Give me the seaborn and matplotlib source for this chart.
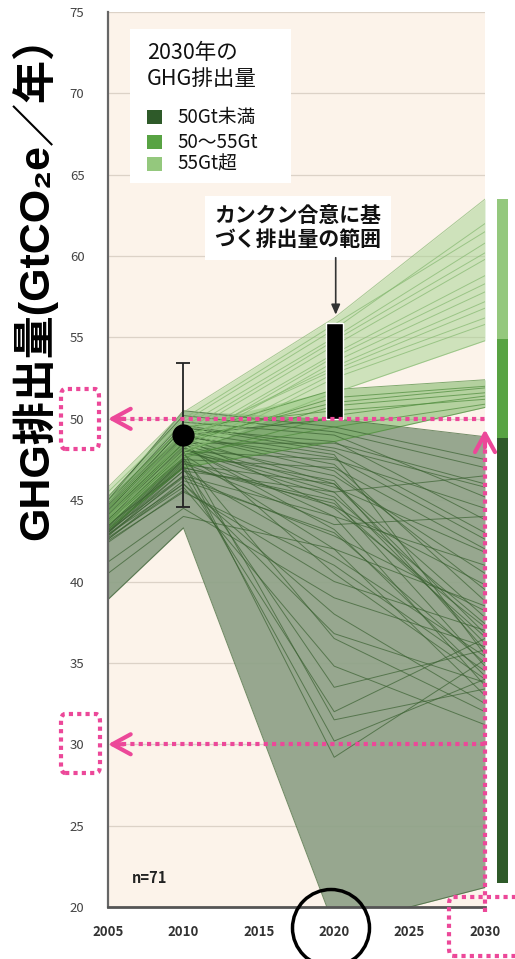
import matplotlib
matplotlib.use("Agg")
import matplotlib.pyplot as plt
from matplotlib.patches import FancyBboxPatch, Ellipse, Rectangle
import pandas as pd
import seaborn as sns

# ---- data -------------------------------------------------------------
years = [2005, 2010, 2020, 2030]

# scenario pathways (GtCO2e/yr), grouped by their 2030 emission level
paths_below_50 = [
    [38.9, 43.3, 18.8, 21.2],
    [41.2, 44.5, 39.0, 36.0],
    [42.5, 45.5, 41.0, 34.5],
    [42.8, 46.5, 32.0, 36.5],
    [43.0, 47.5, 29.2, 35.2],
    [43.5, 47.0, 30.2, 34.0],
    [44.0, 48.0, 31.5, 33.4],
    [42.6, 46.2, 43.0, 35.0],
    [42.9, 46.0, 38.0, 32.5],
    [42.7, 45.8, 34.8, 31.2],
    [43.7, 47.6, 36.5, 32.0],
    [43.4, 47.8, 42.0, 33.0],
    [44.1, 48.6, 40.5, 34.0],
    [43.6, 48.2, 44.0, 33.6],
    [44.5, 49.2, 47.8, 35.5],
    [43.0, 47.0, 45.0, 34.8],
    [42.8, 46.8, 45.5, 36.2],
    [43.2, 47.2, 46.0, 37.8],
    [43.9, 48.8, 44.5, 37.2],
    [44.0, 48.5, 46.5, 40.5],
    [44.6, 49.0, 46.8, 39.5],
    [40.5, 44.0, 42.0, 38.5],
    [43.1, 46.5, 44.0, 41.0],
    [43.5, 47.5, 47.0, 42.0],
    [44.3, 49.5, 48.0, 43.0],
    [43.3, 47.3, 43.5, 44.0],
    [43.8, 48.0, 47.5, 44.5],
    [44.8, 49.8, 49.0, 45.2],
    [44.2, 48.5, 48.5, 46.0],
    [44.0, 48.2, 45.5, 46.5],
    [45.0, 50.5, 49.5, 47.5],
    [44.5, 49.0, 50.0, 48.9],
    [42.4, 45.6, 40.0, 37.0],
    [43.2, 47.0, 44.8, 36.6],
    [43.6, 47.9, 46.2, 35.8],
    [44.0, 48.3, 43.2, 34.2],
    [43.0, 46.8, 41.5, 35.4],
    [44.4, 49.0, 47.2, 38.8],
    [42.6, 46.0, 36.8, 33.8],
    [43.8, 48.4, 45.8, 41.8],
    [44.6, 49.4, 48.6, 43.8],
    [43.4, 47.4, 44.6, 39.8],
    [44.2, 48.9, 47.6, 42.6],
    [42.9, 46.4, 42.8, 38.2],
    [44.7, 49.6, 48.2, 45.8],
    [43.1, 47.1, 33.5, 35.8],
    [44.3, 48.8, 46.0, 36.8],
    [43.7, 48.1, 45.2, 37.4],
    [45.2, 50.2, 49.2, 47.0],
]
paths_50_55 = [
    [44.5, 49.0, 51.8, 52.4],
    [44.0, 48.5, 51.3, 52.0],
    [43.6, 48.0, 50.8, 51.6],
    [45.0, 49.5, 50.5, 51.2],
    [43.8, 47.8, 49.5, 50.9],
    [43.2, 47.0, 48.6, 50.7],
    [44.2, 48.7, 51.0, 51.9],
    [43.5, 47.6, 50.2, 51.4],
]
paths_above_55 = [
    [45.8, 50.4, 56.2, 63.5],
    [45.2, 49.8, 55.5, 62.0],
    [44.8, 49.5, 55.0, 60.8],
    [44.5, 49.0, 54.5, 59.8],
    [44.0, 48.6, 54.0, 58.8],
    [43.7, 48.2, 53.5, 57.8],
    [44.3, 48.8, 53.0, 56.8],
    [43.5, 47.8, 52.5, 55.8],
    [44.0, 48.0, 51.6, 54.8],
    [45.5, 50.0, 55.8, 61.5],
    [44.6, 49.2, 54.8, 60.2],
    [43.9, 48.4, 53.8, 58.3],
    [44.2, 48.7, 53.2, 57.2],
    [43.6, 48.0, 52.8, 56.2],
]

group_names = ["50Gt未満", "50～55Gt", "55Gt超"]
group_colors = ["#2E5A29", "#58A343", "#94C87D"]
band_colors = ["#8FA288", "#6DB056", "#A9D595"]
band_alphas = [0.93, 0.5, 0.55]
line_colors = ["#3A6131", "#4C8A3A", "#84B86F"]

cancun_range = [50.0, 55.9]          # 2020 pledge range
hist_2010 = 49.0                     # 2010 estimate
hist_2010_range = [44.6, 53.4]
side_bar_edges = [21.5, 48.8, 54.9, 63.5]   # 2030 spread by group
y_ticks = [20, 25, 30, 35, 40, 45, 50, 55, 60, 65, 70, 75]
x_ticks = [2005, 2010, 2015, 2020, 2025, 2030]
n_scenarios = len(paths_below_50) + len(paths_50_55) + len(paths_above_55)

# ---- long table -------------------------------------------------------
rows = []
for name, paths in zip(group_names, [paths_below_50, paths_50_55, paths_above_55]):
    for i, p in enumerate(paths):
        for yr, v in zip(years, p):
            rows.append({"group": name, "scenario": f"{name}-{i}", "year": yr, "value": v})
df = pd.DataFrame(rows)

# ---- style ------------------------------------------------------------
sns.set_theme(style="white")
plt.rcParams["font.family"] = ["Noto Sans CJK JP", "DejaVu Sans"]

W, H = 515, 959
fig = plt.figure(figsize=(W / 100, H / 100), dpi=100)
fig.patch.set_facecolor("white")
ax = fig.add_axes([108 / W, 1 - 907 / H, (485 - 108) / W, (907 - 12) / H])
ax.set_facecolor("#FCF3EA")
ax.set_xlim(2005, 2030)
ax.set_ylim(20, 75)

for yv in y_ticks:
    ax.axhline(yv, color="#DCD2C7", lw=0.9, zorder=0)

# group envelopes
for name, col, a in zip(group_names, band_colors, band_alphas):
    env = df[df["group"] == name].groupby("year")["value"].agg(["min", "max"])
    ax.fill_between(env.index, env["min"], env["max"], color=col, alpha=a, lw=0, zorder=1)

# individual pathways
sns.lineplot(data=df, x="year", y="value", hue="group", units="scenario",
             estimator=None, palette=dict(zip(group_names, line_colors)),
             lw=0.7, alpha=0.7, legend=False, ax=ax, zorder=2)

# 2010 estimate with uncertainty
ax.errorbar([2010], [hist_2010],
            yerr=[[hist_2010 - hist_2010_range[0]], [hist_2010_range[1] - hist_2010]],
            fmt="o", ms=15, color="black", ecolor="#222222", elinewidth=1.3,
            capsize=5, capthick=1.3, zorder=6)

# Cancun pledge range in 2020
ax.bar([2020], [cancun_range[1] - cancun_range[0]], bottom=cancun_range[0],
       width=1.12, color="black", zorder=6)

# 2030 spread bar beside the plot
for lo, hi, col in zip(side_bar_edges[:-1], side_bar_edges[1:], group_colors):
    ax.bar([2031.15], [hi - lo], bottom=lo, width=0.72, color=col,
           clip_on=False, zorder=6, lw=0)

# callout
ax.text(2017.6, 61.75, "カンクン合意に基\nづく排出量の範囲", ha="center", va="center",
        fontsize=15, fontweight="bold", color="#111111", linespacing=1.2,
        bbox=dict(boxstyle="square,pad=0.45", fc="white", ec="none"), zorder=7)
ax.annotate("", xy=(2020.1, 56.4), xytext=(2020.1, 59.9),
            arrowprops=dict(arrowstyle="-|>,head_length=0.5,head_width=0.22",
                            color="#333333", lw=1.2, shrinkA=0, shrinkB=0), zorder=7)

ax.text(2006.6, 21.8, f"n={n_scenarios}", fontsize=10.5, fontweight="bold",
        color="#222222", ha="left", va="center", zorder=7)

# axes cosmetics
for s in ["top", "right"]:
    ax.spines[s].set_visible(False)
ax.spines["left"].set_color("#666666")
ax.spines["left"].set_linewidth(1.6)
ax.spines["bottom"].set_color("#555555")
ax.spines["bottom"].set_linewidth(2.0)
ax.set_xticks(x_ticks)
ax.set_yticks(y_ticks)
ax.tick_params(axis="x", direction="in", length=4, width=1.5, color="#555555",
               pad=13, labelsize=9.5, labelcolor="#333333")
ax.tick_params(axis="y", length=0, pad=17, labelsize=9.5, labelcolor="#444444")
for t in ax.get_xticklabels():
    t.set_fontweight("bold")
ax.set_xlabel("")
ax.set_ylabel("")

fig.text(34 / W, 1 - 277 / H, "GHG排出量(GtCO₂e／年）", rotation=90, ha="center",
         va="center", fontsize=31, fontweight="bold", color="black",
         family=["Liberation Sans", "Noto Sans CJK JP", "DejaVu Sans"])

# legend panel
def fx(px):
    return px / W

def fy(py):
    return 1 - py / H

fig.patches.append(Rectangle((fx(130), fy(183)), (291 - 130) / W, (183 - 29) / H,
                             transform=fig.transFigure, fc="white", ec="none", zorder=8))
fig.text(fx(147), fy(53), "2030年の", fontsize=15.5, ha="left", va="center",
         color="#111111", zorder=9)
fig.text(fx(147), fy(79), "GHG排出量", fontsize=15.5, ha="left", va="center",
         color="#111111", zorder=9)
for name, col, yc in zip(group_names, group_colors, [117, 142, 164]):
    fig.patches.append(Rectangle((fx(147), fy(yc + 7)), 15 / W, 14 / H,
                                 transform=fig.transFigure, fc=col, ec="none", zorder=9))
    fig.text(fx(177), fy(yc), name, fontsize=13.5, ha="left", va="center",
             color="#111111", zorder=9)

# highlight marks
pink = "#EC4899"
dot = (0, (1, 1))
for yv in [50, 30]:
    ax.plot([2005.95, 2030], [yv, yv], color=pink, lw=3, ls=dot, clip_on=False, zorder=9)
    ax.annotate("", xy=(2005.0, yv), xytext=(2006.05, yv),
                arrowprops=dict(arrowstyle="->,head_length=1.1,head_width=0.6",
                                color=pink, lw=3, shrinkA=0, shrinkB=0),
                annotation_clip=False, zorder=9)
ax.plot([2030, 2030], [19.7, 48.3], color=pink, lw=3, ls=dot, clip_on=False, zorder=9)
ax.annotate("", xy=(2030, 49.35), xytext=(2030, 48.25),
            arrowprops=dict(arrowstyle="->,head_length=1.1,head_width=0.6",
                            color=pink, lw=3, shrinkA=0, shrinkB=0),
            annotation_clip=False, zorder=9)

def pink_box(x0, y0, x1, y1):
    fig.patches.append(FancyBboxPatch(
        (fx(x0), fy(y1)), (x1 - x0) / W, (y1 - y0) / H,
        boxstyle="round,pad=0,rounding_size=0.008", transform=fig.transFigure,
        fill=False, ec=pink, lw=3, ls=dot, zorder=9))

pink_box(61, 389, 99, 449)
pink_box(61, 714, 100, 773)
pink_box(449, 897, 525, 956)

fig.patches.append(Ellipse((fx(331), fy(928)), 77 / W, 77 / H,
                           transform=fig.transFigure, fill=False, ec="black",
                           lw=2.5, zorder=9))

fig.savefig("out.png", dpi=100, facecolor="white")
